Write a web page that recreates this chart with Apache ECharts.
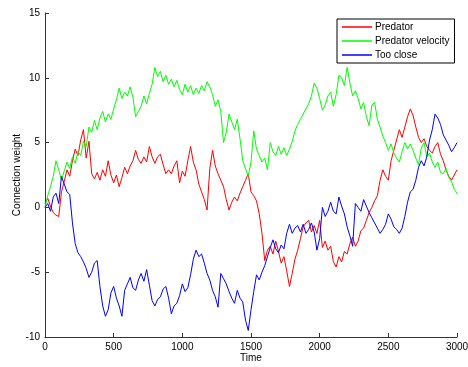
<!DOCTYPE html>
<html>
<head>
<meta charset="utf-8">
<script src="https://cdn.jsdelivr.net/npm/echarts@6/dist/echarts.min.js"></script>
<style>
html,body{margin:0;padding:0;background:#fff;}
#c{width:468px;height:367px;}
</style>
</head>
<body>
<div id="c"></div>
<script>
// Sampling step of the time axis (every 20 time units from 0 to 3000)
var timeStep = 20;
var seriesNames = ['Predator', 'Predator velocity', 'Too close'];
var xTicks = [0, 500, 1000, 1500, 2000, 2500, 3000];
var yTicks = [-10, -5, 0, 5, 10, 15];

var predator = [
 0.3, 0.7, 0.1, -0.4, -0.6, -0.7, 1.2, 2.0, 2.9, 2.4,
 3.6, 4.5, 4.0, 5.2, 6.0, 3.8, 5.1, 2.6, 2.2, 2.7,
 2.1, 2.9, 2.4, 3.6, 2.5, 1.9, 2.5, 1.6, 2.3, 3.1,
 2.6, 3.2, 3.6, 4.4, 3.7, 3.4, 3.9, 3.5, 4.7, 3.9,
 3.4, 3.9, 4.1, 3.3, 2.6, 2.9, 2.6, 3.2, 3.6, 1.9,
 2.8, 2.4, 3.6, 4.7, 3.5, 2.9, 1.8, 1.2, 0.6, -0.2,
 3.0, 4.4, 3.2, 2.6, 2.1, 1.6, 0.6, -0.2, 0.4, 0.8,
 0.5, 1.1, 1.6, 2.1, 2.6, 1.2, 0.9, 0.5, -0.5, -2.0,
 -4.1, -3.3, -3.0, -3.6, -2.6, -3.4, -4.3, -3.8, -4.9, -6.1,
 -5.1, -4.0, -3.3, -2.4, -1.5, -1.2, -1.0, -1.9, -1.4, -2.0,
 -1.0, -3.1, -2.6, -3.3, -3.0, -4.2, -4.6, -3.8, -4.2, -3.4,
 -3.6, -2.8, -2.3, -3.0, -2.6, -1.8, -1.6, -1.0, -0.4, 0.0,
 0.5, 0.9, 2.1, 2.9, 2.4, 2.1, 3.6, 4.4, 5.2, 6.0,
 5.4, 6.2, 7.0, 7.6, 7.1, 6.2, 5.4, 5.0, 5.3, 4.7,
 4.4, 4.2, 4.7, 5.0, 4.1, 3.6, 2.9, 2.4, 2.1, 2.5,
 2.9
];

var predatorVelocity = [
 0.0, 0.9, 1.6, 2.4, 3.6, 2.9, 2.1, 2.8, 3.5, 3.0,
 3.9, 3.4, 4.3, 4.0, 5.1, 4.7, 6.2, 5.8, 6.7, 6.0,
 6.9, 7.4, 6.6, 7.2, 6.8, 7.6, 8.3, 9.2, 8.4, 8.9,
 8.6, 9.3, 8.5, 7.0, 7.4, 7.8, 8.6, 8.0, 8.8, 9.5,
 10.8, 10.1, 10.5, 9.7, 10.2, 9.5, 9.9, 9.3, 9.8, 9.1,
 8.7, 9.5, 8.9, 9.4, 8.7, 9.2, 8.8, 9.4, 9.0, 9.7,
 9.3, 8.7, 7.8, 8.3, 7.4, 5.0, 5.8, 7.2, 6.6, 6.0,
 6.8, 5.3, 3.6, 3.0, 2.4, 3.5, 5.9, 4.5, 4.0, 3.5,
 3.8, 2.9, 5.0, 4.3, 4.0, 4.7, 4.1, 4.6, 4.0, 4.5,
 5.1, 5.9, 6.4, 6.8, 7.2, 7.6, 8.0, 8.6, 9.6, 9.2,
 8.4, 7.5, 7.9, 8.6, 8.9, 7.8, 8.7, 10.2, 10.0, 9.4,
 10.8, 9.6, 8.6, 9.0, 8.4, 7.6, 8.1, 7.0, 6.3, 7.9,
 8.1, 6.8, 6.2, 5.5, 5.0, 4.4, 4.9, 4.2, 3.8, 3.5,
 4.3, 5.0, 4.5, 4.9, 4.4, 3.8, 3.3, 4.6, 5.0, 3.9,
 4.2, 3.5, 3.1, 3.5, 2.7, 2.6, 3.0, 2.3, 2.0, 1.4,
 1.1
];

var tooClose = [
 0.0, 0.3, -0.3, 0.8, 1.1, 0.3, 2.4, 1.8, 1.2, 1.0,
 -1.2, -2.8, -3.5, -3.8, -4.2, -4.7, -5.4, -5.0, -4.3, -4.1,
 -6.1, -7.6, -8.4, -7.9, -6.6, -6.1, -7.0, -7.6, -8.4, -6.4,
 -5.9, -5.4, -6.2, -6.4, -5.6, -5.1, -5.7, -4.8, -6.0, -7.2,
 -7.6, -7.1, -6.9, -6.3, -6.1, -7.0, -8.2, -7.6, -7.4, -6.8,
 -5.9, -6.5, -6.2, -5.2, -4.0, -3.3, -3.8, -3.6, -4.3, -5.1,
 -5.6, -6.4, -6.9, -7.7, -5.1, -5.5, -5.9, -6.5, -7.0, -7.4,
 -6.4, -7.0, -7.3, -8.7, -9.5, -7.9, -6.5, -5.2, -5.6, -5.0,
 -4.5, -3.8, -3.1, -2.5, -3.2, -3.5, -2.9, -3.2, -2.0, -1.3,
 -2.0, -1.6, -1.4, -1.9, -1.3, -2.0, -1.7, -1.2, -1.9, -3.3,
 -2.4, 0.0, -0.7, -0.3, 0.4, -0.3, -0.5, 0.8, 0.1, -0.5,
 -1.5, -2.2, -3.0, 0.3, 0.0, -0.3, 0.6, 0.1, -0.4, -0.8,
 -1.2, -1.6, -2.0, -1.7, -1.3, -0.5, -0.9, -1.5, -1.7, -2.0,
 -1.6, -0.7, 0.4, 1.2, 1.4, 2.1, 3.1, 3.6, 3.2, 3.9,
 5.2, 6.0, 7.2, 6.9, 6.4, 5.6, 5.2, 4.8, 4.3, 4.6,
 5.0
];

function pairs(vals) {
  var out = [];
  for (var i = 0; i < vals.length; i++) out.push([i * timeStep, vals[i]]);
  return out;
}

var FONT = 'Liberation Sans, Arial, sans-serif';
var chart = echarts.init(document.getElementById('c'), null, {renderer: 'canvas'});
var axisFont = {fontFamily: FONT, fontSize: 10, color: '#000'};
chart.setOption({
  animation: false,
  backgroundColor: '#fff',
  grid: {left: 45, right: 11, top: 13, bottom: 30, containLabel: false, outerBoundsMode: 'none'},
  xAxis: {
    type: 'value', min: xTicks[0], max: xTicks[xTicks.length - 1], interval: 500,
    name: 'Time', nameLocation: 'middle', nameGap: 16, nameMoveOverlap: false,
    nameTextStyle: {fontFamily: FONT, fontSize: 10, color: '#000'},
    axisLine: {show: true, onZero: false, lineStyle: {color: '#333', width: 1}},
    axisTick: {show: true, inside: true, length: 4, lineStyle: {color: '#333'}},
    axisLabel: Object.assign({margin: 5, formatter: function (v) { return String(v); }}, axisFont),
    splitLine: {show: false}
  },
  yAxis: {
    type: 'value', min: yTicks[0], max: yTicks[yTicks.length - 1], interval: 5,
    name: 'Connection weight', nameLocation: 'middle', nameGap: 23, nameRotate: 90, nameMoveOverlap: false,
    nameTextStyle: {fontFamily: FONT, fontSize: 10, color: '#000'},
    axisLine: {show: true, onZero: false, lineStyle: {color: '#333', width: 1}},
    axisTick: {show: true, inside: true, length: 4, lineStyle: {color: '#333'}},
    axisLabel: Object.assign({margin: 5, formatter: function (v) { return String(v); }}, axisFont),
    splitLine: {show: false}
  },
  legend: {
    data: seriesNames,
    orient: 'vertical',
    left: 337, top: 19,
    icon: 'rect', itemWidth: 30, itemHeight: 1.5, itemGap: 4,
    padding: [3, 5, 3, 5],
    backgroundColor: '#fff',
    borderColor: '#000', borderWidth: 1, borderRadius: 0,
    textStyle: {fontFamily: FONT, fontSize: 10, color: '#000', padding: [0, 0, 0, -2]}
  },
  series: [
    {name: seriesNames[0], type: 'line', data: pairs(predator), showSymbol: false, symbol: 'none',
     lineStyle: {color: '#ff0000', width: 1}, itemStyle: {color: '#ff0000'}, z: 2},
    {name: seriesNames[1], type: 'line', data: pairs(predatorVelocity), showSymbol: false, symbol: 'none',
     lineStyle: {color: '#00ff00', width: 1}, itemStyle: {color: '#00ff00'}, z: 3},
    {name: seriesNames[2], type: 'line', data: pairs(tooClose), showSymbol: false, symbol: 'none',
     lineStyle: {color: '#0000ff', width: 1}, itemStyle: {color: '#0000ff'}, z: 4}
  ]
});
</script>
</body>
</html>
